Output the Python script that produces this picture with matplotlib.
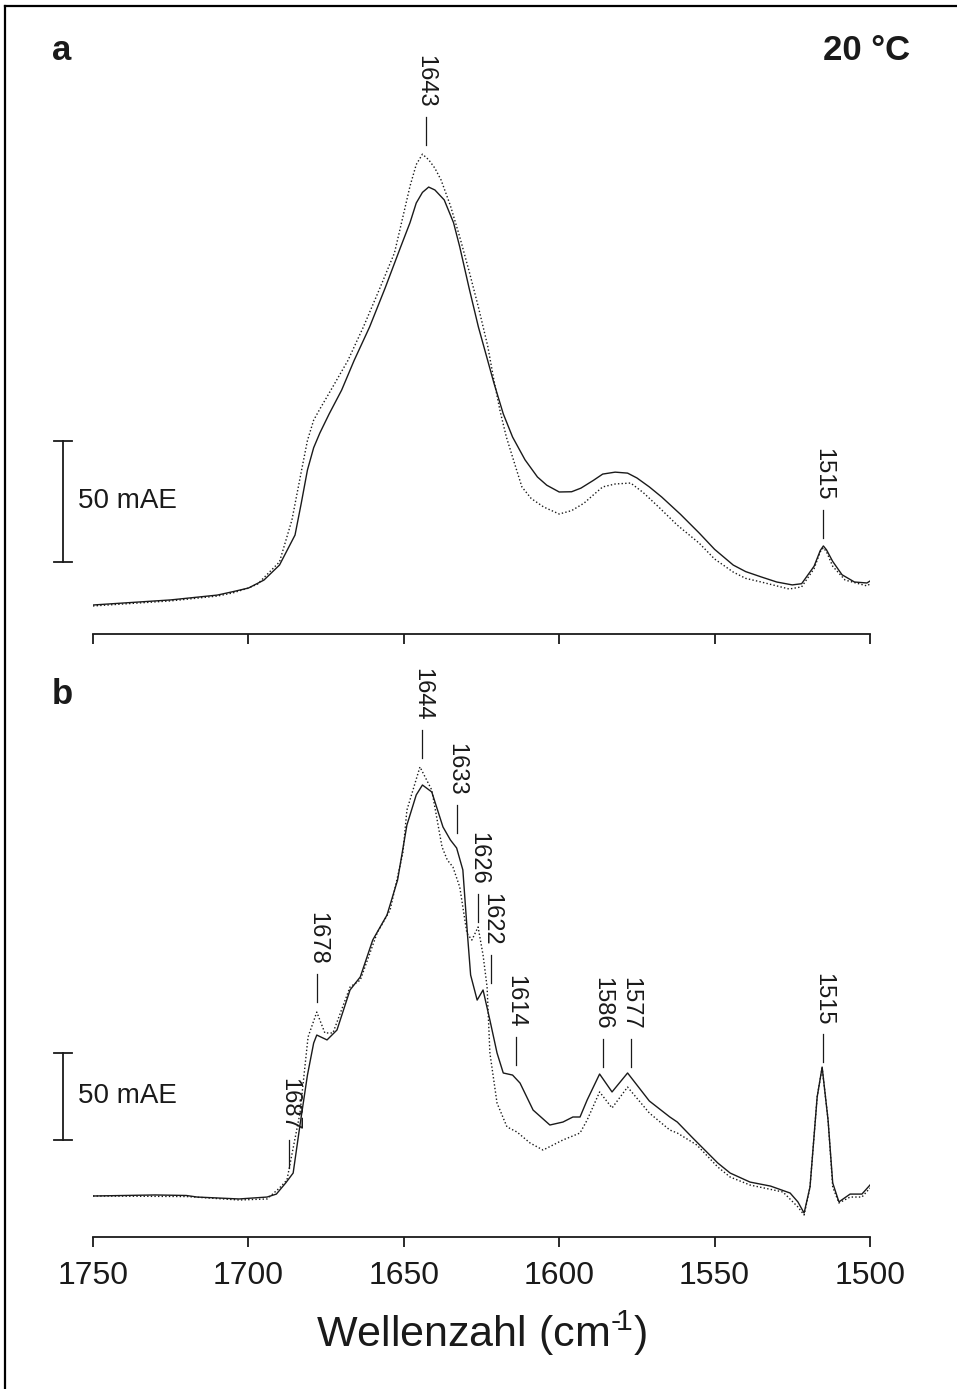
import matplotlib
matplotlib.use('Agg')
import matplotlib.pyplot as plt
from matplotlib.lines import Line2D

plt.rcParams['font.family'] = ['Liberation Sans', 'DejaVu Sans']
plt.rcParams['mathtext.fontset'] = 'custom'
plt.rcParams['mathtext.rm'] = 'Liberation Sans'
plt.rcParams['mathtext.default'] = 'regular'

# ---- panel a (wavenumber cm-1, absorbance in mAE above baseline) ----
wn_a_solid = [1750, 1725, 1710, 1705, 1700, 1695, 1690, 1685, 1683, 1681, 1679, 1677, 1674,
              1670, 1666, 1661, 1656, 1651, 1648, 1646, 1644, 1642, 1640, 1637, 1634, 1632,
              1629, 1626, 1623, 1621, 1618, 1615, 1611, 1607, 1604, 1600, 1596, 1593, 1589,
              1586, 1582, 1578, 1575, 1571, 1567, 1561, 1555, 1550, 1544, 1540, 1535, 1530,
              1525, 1522, 1518, 1516, 1515, 1514, 1512, 1509, 1505, 1501, 1500]
mae_a_solid = [0, 2.1, 4.1, 5.5, 7.0, 10.3, 16.5, 28.9, 42.0, 55.8, 65.0, 71.1, 79.0,
               88.8, 101.0, 114.9, 131.0, 148.0, 158.0, 166.1, 170.5, 172.7, 171.5, 167.4, 158.0, 148.0,
               131.0, 114.9, 101.0, 91.7, 79.0, 69.4, 60.0, 52.9, 49.5, 46.7, 46.8, 48.3, 51.5,
               54.1, 54.9, 54.5, 52.5, 48.8, 44.6, 37.5, 29.8, 23.0, 16.5, 13.8, 11.6, 9.5,
               8.3, 8.8, 16.0, 22.5, 24.4, 22.8, 18.0, 12.5, 9.5, 9.1, 9.9]

wn_a_dot = [1750, 1725, 1710, 1705, 1700, 1697, 1690, 1686, 1683, 1681, 1679, 1677, 1674,
            1668, 1663, 1658, 1653, 1650, 1648, 1646, 1644, 1642, 1640, 1638, 1635, 1632,
            1629, 1626, 1623, 1621, 1619, 1617, 1614, 1612, 1609, 1605, 1600, 1596, 1592,
            1589, 1586, 1582, 1577, 1573, 1568, 1562, 1555, 1550, 1544, 1540, 1535, 1526,
            1522, 1518, 1516, 1515, 1514, 1512, 1508, 1501, 1500]
mae_a_dot = [-0.4, 1.7, 3.7, 5.0, 7.0, 8.7, 17.8, 35.1, 55.0, 68.0, 76.4, 81.0, 87.6,
             101.0, 114.9, 130.0, 145.5, 162.0, 173.1, 182.0, 186.3, 184.0, 180.5, 175.6, 165.0, 152.1,
             138.0, 123.1, 107.0, 92.9, 80.0, 69.4, 57.0, 48.8, 44.0, 40.5, 37.6, 39.0, 42.1,
             45.5, 48.8, 50.0, 50.4, 46.5, 40.5, 33.0, 25.6, 19.0, 13.6, 11.0, 9.5, 6.6,
             7.5, 15.0, 22.0, 23.6, 22.0, 16.0, 10.3, 7.9, 8.7]

# ---- panel b ----
wn_b_solid = [1750, 1740, 1730, 1720, 1716.5, 1703, 1694, 1691, 1688, 1685.6, 1683.4, 1681,
              1679, 1678, 1676, 1674.7, 1671.5, 1667.3, 1664, 1660, 1655.4, 1652, 1649, 1646,
              1644, 1641, 1637.4, 1635, 1633, 1631, 1629.5, 1628.5, 1626.4, 1624.5, 1622.3,
              1620, 1618, 1615, 1612.6, 1608.4, 1603, 1598.8, 1595.6, 1593.3, 1591, 1587,
              1583, 1578, 1571, 1564.4, 1562, 1557, 1549, 1545, 1538.6, 1532, 1525.7, 1523.2,
              1521.2, 1519.3, 1517, 1515.4, 1513.5, 1512, 1510, 1506.4, 1502.6, 1500]
mae_b_solid = [0, 0.3, 0.6, 0.3, -0.6, -1.7, -0.6, 1.1, 7.5, 13.2, 40.8, 69.5,
               87.9, 92.5, 90.8, 89.7, 95.4, 118.4, 125.9, 147.1, 161.5, 181.6, 213.2, 230.5,
               236.2, 232.2, 212.1, 204.6, 200.0, 187.4, 150.0, 127.0, 112.6, 118.4, 101.1,
               82.2, 70.7, 69.5, 64.9, 49.4, 40.8, 42.5, 45.4, 45.4, 55.2, 70.1,
               59.8, 70.7, 54.6, 45.4, 42.5, 33.3, 19.0, 13.2, 8.0, 5.7, 1.7, -3.4,
               -9.8, 5.2, 56.9, 74.1, 43.7, 7.5, -3.4, 1.1, 1.1, 6.3]

wn_b_dot = [1750, 1720, 1703, 1694, 1690, 1687.6, 1683.4, 1680.8, 1678, 1675.4, 1672.8,
            1667.3, 1664, 1658.6, 1654.4, 1650.3, 1649, 1644.8, 1641, 1637.7, 1636, 1634.2,
            1632, 1629.7, 1628.1, 1626.1, 1624.5, 1623.2, 1622.3, 1620, 1616.8, 1613.6,
            1609.4, 1605.2, 1598.8, 1593.3, 1591, 1587, 1583, 1578, 1571, 1564.4, 1562,
            1555.7, 1549, 1545, 1538.6, 1528, 1523.2, 1521.2, 1519.3, 1517, 1515.4, 1513.5,
            1512, 1510, 1506.4, 1502.6, 1500]
mae_b_dot = [0, -0.3, -2.3, -1.7, 4.6, 9.2, 47.7, 91.4, 105.7, 93.7, 93.7,
             120.1, 124.1, 151.1, 164.4, 197.1, 221.8, 246.6, 233.3, 200.6, 193.1, 189.1,
             177.6, 151.1, 147.1, 154.6, 138.5, 120.1, 82.2, 53.4, 39.7, 36.8,
             30.5, 26.4, 32.2, 36.2, 43.7, 59.8, 50.6, 62.6, 47.7, 37.9, 36.2,
             29.3, 16.7, 10.9, 6.3, 2.3, -6.3, -10.9, 5.2, 57.0, 73.6, 44.0,
             5.2, -4.0, -0.6, -0.6, 4.6]

# peak labels and the height (mAE) where each marker line starts
peaks_a = [1643, 1515]
peak_y_a = [190.1, 27.7]
peaks_b = [1687, 1678, 1644, 1633, 1626, 1622, 1614, 1586, 1577, 1515]
peak_y_b = [16.1, 111.5, 251.7, 208.6, 157.5, 122.4, 75.3, 74.1, 74.1, 77.0]

xticks = [1750, 1700, 1650, 1600, 1550, 1500]

W, H = 957, 1389
fig = plt.figure(figsize=(W / 100, H / 100), dpi=100)
ink = '#1a1a1a'


def px_axes(x0, x1, ytop, ybot):
    return fig.add_axes([x0 / W, 1 - ybot / H, (x1 - x0) / W, (ybot - ytop) / H])


def setup(ax, ybot_px, ytop_px, base_px, px_per_mae):
    lo = -(ybot_px - base_px) / px_per_mae
    ax.set_ylim(lo, lo + (ybot_px - ytop_px) / px_per_mae)
    ax.set_xlim(1750, 1500)
    for s in ['left', 'right', 'top']:
        ax.spines[s].set_visible(False)
    ax.spines['bottom'].set_linewidth(1.3)
    ax.spines['bottom'].set_color(ink)
    ax.set_yticks([])
    ax.set_xticks(xticks)
    ax.tick_params(axis='x', direction='out', length=7, width=1.3, color=ink)
    ax.patch.set_visible(False)


def scale_bar(ax, y0):
    tr = ax.get_yaxis_transform()
    xb = -30 / 777
    cap = 9 / 777
    ax.plot([xb, xb], [y0, y0 + 50], color=ink, lw=1.3, transform=tr, clip_on=False)
    for yy in (y0, y0 + 50):
        ax.plot([xb - cap, xb + cap], [yy, yy], color=ink, lw=1.3, transform=tr, clip_on=False)
    ax.text(-15 / 777, y0 + 25, '50 mAE', transform=tr, ha='left', va='center',
            fontsize=20, color=ink)


def peak_labels(ax, peaks, ys, px_per_mae):
    for w, y in zip(peaks, ys):
        ax.plot([w, w], [y, y + 28 / px_per_mae], color=ink, lw=0.9, clip_on=False)
        ax.text(w, y + 37 / px_per_mae, str(w), rotation=270, ha='center', va='bottom',
                fontsize=17, color=ink, clip_on=False)


dots = (0, (1, 1.6))

# panel a
sa = 2.42
ax_a = px_axes(93, 870, 20, 634)
setup(ax_a, 634, 20, 605, sa)
ax_a.set_xticklabels([])
ax_a.plot(wn_a_solid, mae_a_solid, color=ink, lw=1.0)
ax_a.plot(wn_a_dot, mae_a_dot, color=ink, lw=1.0, linestyle=dots)
scale_bar(ax_a, 17.8)
peak_labels(ax_a, peaks_a, peak_y_a, sa)

# panel b
sb = 1.74
ax_b = px_axes(93, 870, 650, 1237)
setup(ax_b, 1237, 650, 1196, sb)
ax_b.set_xticklabels([str(t) for t in xticks], fontsize=23, color=ink)
ax_b.tick_params(axis='x', pad=10)
ax_b.plot(wn_b_solid, mae_b_solid, color=ink, lw=1.0)
ax_b.plot(wn_b_dot, mae_b_dot, color=ink, lw=1.0, linestyle=dots)
scale_bar(ax_b, 32.2)
peak_labels(ax_b, peaks_b, peak_y_b, sb)

# texts
fig.text(52 / W, 1 - 50 / H, 'a', fontsize=25, fontweight='bold', ha='left', va='center', color=ink)
fig.text(52 / W, 1 - 694 / H, 'b', fontsize=25, fontweight='bold', ha='left', va='center', color=ink)
fig.text(910 / W, 1 - 50 / H, '20 °C', fontsize=25, fontweight='bold', ha='right', va='center',
         color=ink)
fig.text((93 + 870) / 2 / W, 1 - 1333 / H, 'Wellenzahl (cm$^{\u2010\\!1}$)', fontsize=31,
         ha='center', va='center', color=ink)

# outer frame (top and left visible)
fig.add_artist(Line2D([5 / W, 1.0], [1 - 6 / H, 1 - 6 / H], transform=fig.transFigure,
                      color='black', lw=1.6))
fig.add_artist(Line2D([5 / W, 5 / W], [0, 1 - 6 / H], transform=fig.transFigure,
                      color='black', lw=1.6))

fig.savefig('out.png', dpi=100)
